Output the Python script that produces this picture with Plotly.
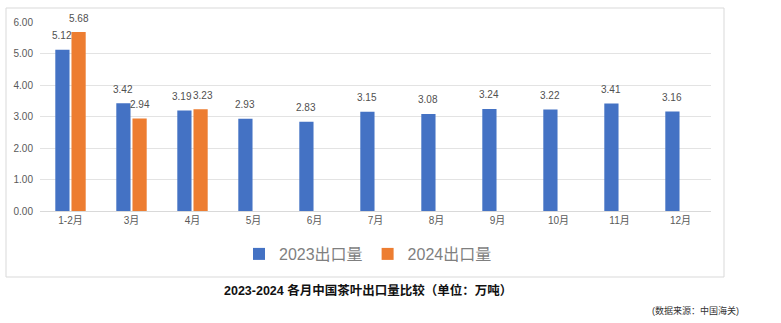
import plotly.graph_objects as go

months = ["1-2月", "3月", "4月", "5月", "6月", "7月", "8月", "9月", "10月", "11月", "12月"]
exports_2023 = [5.12, 3.42, 3.19, 2.93, 2.83, 3.15, 3.08, 3.24, 3.22, 3.41, 3.16]
exports_2024 = [5.68, 2.94, 3.23, None, None, None, None, None, None, None, None]
y_ticks = [0, 1, 2, 3, 4, 5, 6]

FONT = "Liberation Sans, Arial, Noto Sans CJK SC, sans-serif"
BLUE = "#4472C4"
ORANGE = "#ED7D31"
LABEL_GRAY = "#505050"

W, H = 781, 323
L, R, T, B = 40, 70, 22, 112
PW, PH = W - L - R, H - T - B

BARGAP, GROUPGAP = 0.47, 0.12
cat_px = PW / len(months)
slot_px = cat_px * (1 - BARGAP) / 2


def px(x):
    return (x - L) / PW


def py(y):
    return (H - B - y) / PH


fig = go.Figure()
fig.add_trace(go.Bar(
    x=months, y=exports_2023, name="2023出口量",
    marker=dict(color=BLUE, line=dict(width=0)),
))
fig.add_trace(go.Bar(
    x=months, y=exports_2024, name="2024出口量",
    marker=dict(color=ORANGE, line=dict(width=0)),
))

# value labels above each bar, shifted onto its slot within the group;
# when the two labels of a group sit at nearly the same height they are
# nudged apart so they butt up against each other instead of overlapping
labels = []
for i, m in enumerate(months):
    a, b = exports_2023[i], exports_2024[i]
    nudge = 2.5 if (a is not None and b is not None and abs(a - b) < 0.3) else 0
    for v, side in ((a, -1), (b, 1)):
        if v is None:
            continue
        labels.append(dict(
            x=m, y=v, xref="x", yref="y", text=f"{v:.2f}",
            showarrow=False, xshift=side * (slot_px / 2 + nudge), yshift=14,
            xanchor="center", yanchor="middle",
            font=dict(size=10, color=LABEL_GRAY, family=FONT),
        ))

fig.update_layout(
    width=W, height=H,
    margin=dict(l=L, r=R, t=T, b=B),
    paper_bgcolor="white", plot_bgcolor="white",
    barmode="group", bargap=BARGAP, bargroupgap=GROUPGAP,
    font=dict(family=FONT, size=10, color="#595959"),
    showlegend=True,
    legend=dict(
        orientation="h", x=px(368), y=py(254),
        xanchor="center", yanchor="middle",
        font=dict(size=16, color="#7F7F7F", family=FONT),
        itemwidth=30, bgcolor="rgba(0,0,0,0)",
    ),
    xaxis=dict(
        showgrid=False, showline=True, linecolor="#D9D9D9", linewidth=1,
        ticks="", tickfont=dict(size=10, color="#595959"),
    ),
    yaxis=dict(
        range=[0, 6], tickvals=y_ticks,
        ticktext=[f"{v:.2f}" for v in y_ticks],
        showgrid=True, gridcolor="#E3E3E3", gridwidth=1,
        zeroline=True, zerolinecolor="#D9D9D9", zerolinewidth=1,
        showline=False, ticks="", ticklabelstandoff=6,
        tickfont=dict(size=10, color="#595959"),
    ),
    shapes=[dict(
        type="rect", xref="paper", yref="paper",
        x0=px(6), x1=px(724), y0=py(277), y1=py(8),
        line=dict(color="#D9D9D9", width=1), fillcolor="rgba(0,0,0,0)",
        layer="below",
    )],
    annotations=labels + [
        dict(
            text="<b>2023-2024 各月中国茶叶出口量比较（单位：万吨）</b>",
            xref="paper", yref="paper", x=px(368), y=py(290),
            xanchor="center", yanchor="middle", showarrow=False,
            font=dict(size=12.5, color="#111111", family=FONT),
        ),
        dict(
            text="(数据来源：中国海关)",
            xref="paper", yref="paper", x=px(741), y=py(310),
            xanchor="right", yanchor="middle", showarrow=False,
            font=dict(size=9, color="#333333", family=FONT),
        ),
    ],
)

fig.write_html("out.html")
